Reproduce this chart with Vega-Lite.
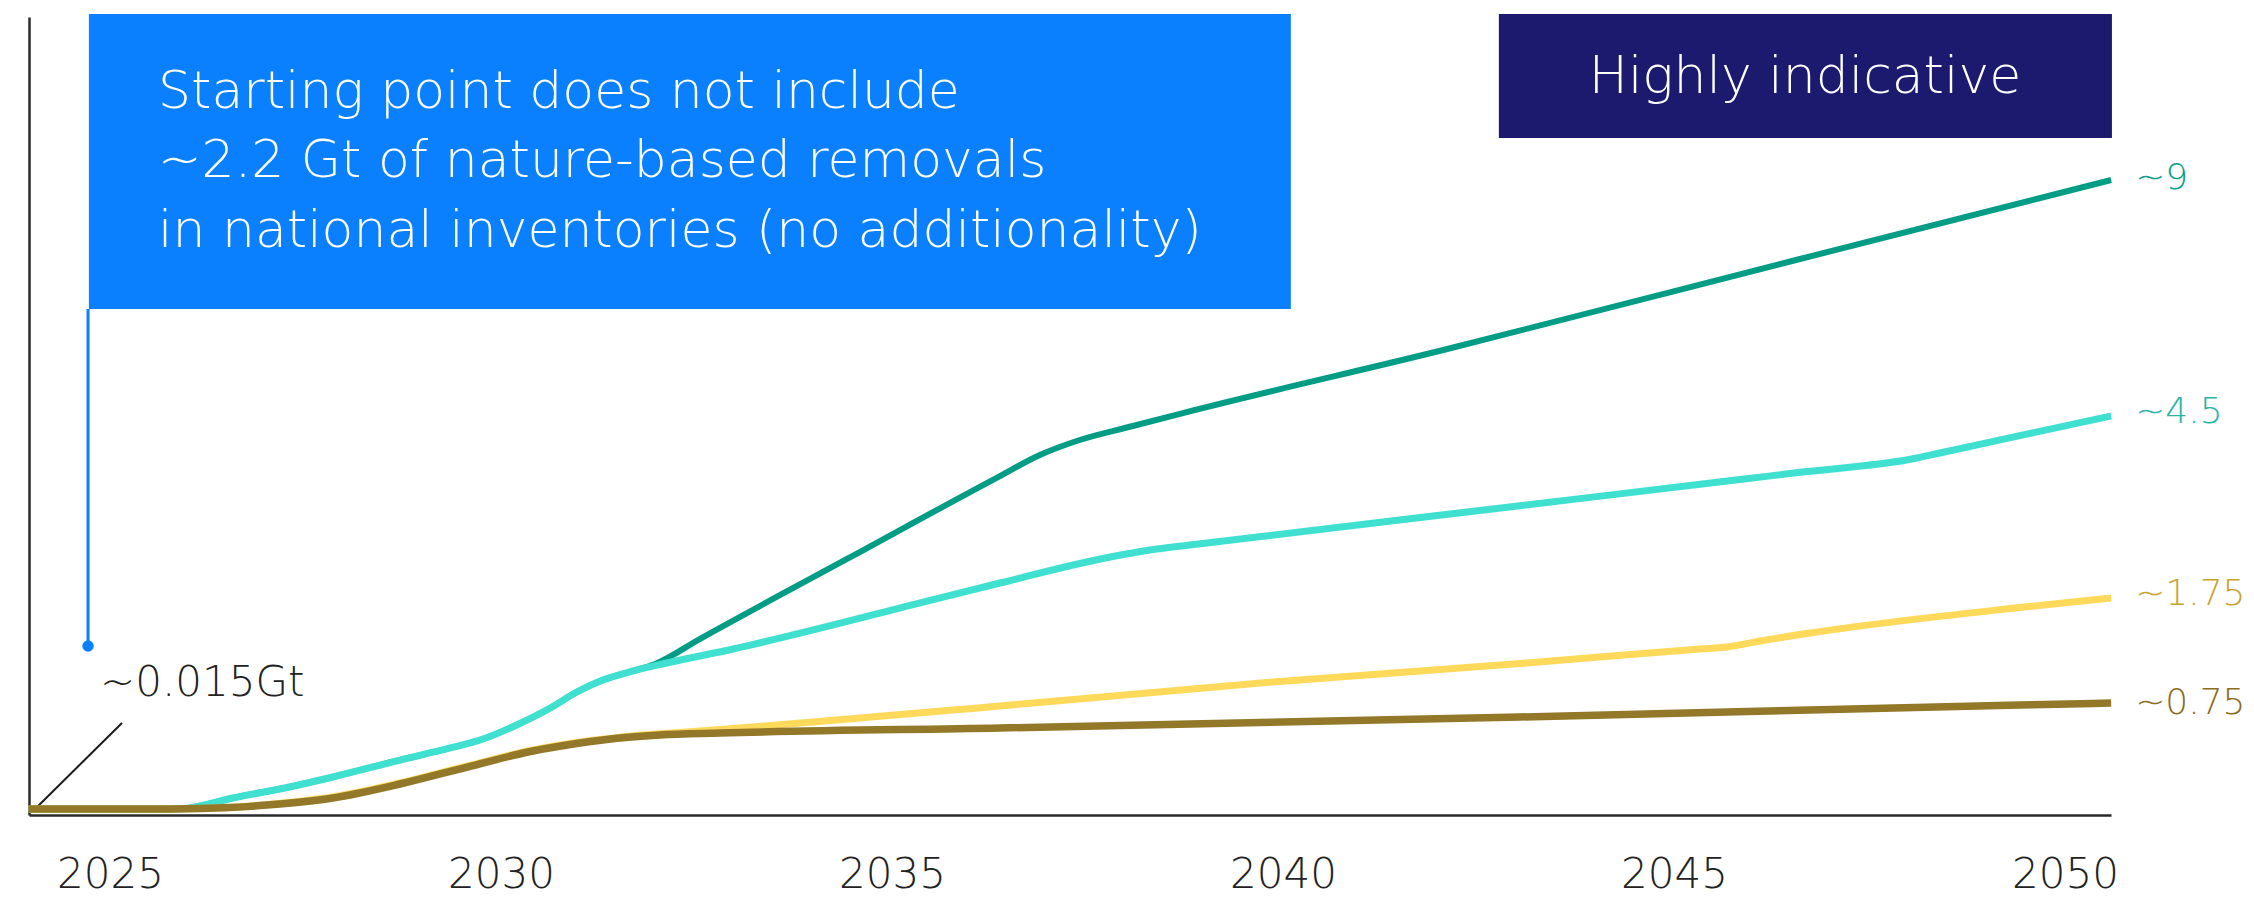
{
  "$schema": "https://vega.github.io/schema/vega-lite/v6.json",
  "width": 2082,
  "height": 798,
  "autosize": {"type": "none"},
  "padding": {"left": 29, "top": 17, "right": 143, "bottom": 84},
  "background": "white",
  "config": {"view": {"stroke": null}, "font": "DejaVu Sans"},
  "datasets": {
    "lines": [
      {"s": "9", "year": 2023.96, "v": 0.085}, {"s": "9", "year": 2025.90, "v": 0.085}, {"s": "9", "year": 2026.15, "v": 0.128}, {"s": "9", "year": 2026.57, "v": 0.241}, {"s": "9", "year": 2027.17, "v": 0.368}, {"s": "9", "year": 2027.85, "v": 0.539}, {"s": "9", "year": 2028.71, "v": 0.779}, {"s": "9", "year": 2029.35, "v": 0.950}, {"s": "9", "year": 2029.77, "v": 1.077}, {"s": "9", "year": 2030.20, "v": 1.276}, {"s": "9", "year": 2030.63, "v": 1.516}, {"s": "9", "year": 2030.97, "v": 1.743}, {"s": "9", "year": 2031.27, "v": 1.899}, {"s": "9", "year": 2031.69, "v": 2.041}, {"s": "9", "year": 2031.97, "v": 2.140}, {"s": "9", "year": 2032.54, "v": 2.494}, {"s": "9", "year": 2034.46, "v": 3.650}, {"s": "9", "year": 2036.38, "v": 4.804}, {"s": "9", "year": 2036.89, "v": 5.102}, {"s": "9", "year": 2037.40, "v": 5.315}, {"s": "9", "year": 2038.08, "v": 5.513}, {"s": "9", "year": 2038.72, "v": 5.697}, {"s": "9", "year": 2042.05, "v": 6.590}, {"s": "9", "year": 2046.61, "v": 7.880}, {"s": "9", "year": 2050.59, "v": 9.000},
      {"s": "4.5", "year": 2023.96, "v": 0.085}, {"s": "4.5", "year": 2025.90, "v": 0.085}, {"s": "4.5", "year": 2026.15, "v": 0.128}, {"s": "4.5", "year": 2026.57, "v": 0.241}, {"s": "4.5", "year": 2027.17, "v": 0.368}, {"s": "4.5", "year": 2027.85, "v": 0.539}, {"s": "4.5", "year": 2028.71, "v": 0.779}, {"s": "4.5", "year": 2029.35, "v": 0.950}, {"s": "4.5", "year": 2029.77, "v": 1.077}, {"s": "4.5", "year": 2030.20, "v": 1.276}, {"s": "4.5", "year": 2030.63, "v": 1.516}, {"s": "4.5", "year": 2030.97, "v": 1.743}, {"s": "4.5", "year": 2031.27, "v": 1.899}, {"s": "4.5", "year": 2031.69, "v": 2.041}, {"s": "4.5", "year": 2032.12, "v": 2.154}, {"s": "4.5", "year": 2032.97, "v": 2.353}, {"s": "4.5", "year": 2035.36, "v": 3.005}, {"s": "4.5", "year": 2036.38, "v": 3.288}, {"s": "4.5", "year": 2037.79, "v": 3.656}, {"s": "4.5", "year": 2038.30, "v": 3.756}, {"s": "4.5", "year": 2038.81, "v": 3.827}, {"s": "4.5", "year": 2043.03, "v": 4.383}, {"s": "4.5", "year": 2045.87, "v": 4.758}, {"s": "4.5", "year": 2046.61, "v": 4.857}, {"s": "4.5", "year": 2048.04, "v": 5.045}, {"s": "4.5", "year": 2048.40, "v": 5.130}, {"s": "4.5", "year": 2049.42, "v": 5.376}, {"s": "4.5", "year": 2050.59, "v": 5.655},
      {"s": "1.75", "year": 2023.96, "v": 0.085}, {"s": "1.75", "year": 2025.77, "v": 0.085}, {"s": "1.75", "year": 2026.53, "v": 0.106}, {"s": "1.75", "year": 2027.17, "v": 0.166}, {"s": "1.75", "year": 2027.85, "v": 0.256}, {"s": "1.75", "year": 2028.71, "v": 0.454}, {"s": "1.75", "year": 2029.57, "v": 0.695}, {"s": "1.75", "year": 2030.41, "v": 0.922}, {"s": "1.75", "year": 2031.01, "v": 1.035}, {"s": "1.75", "year": 2031.52, "v": 1.103}, {"s": "1.75", "year": 2032.03, "v": 1.150}, {"s": "1.75", "year": 2032.54, "v": 1.190}, {"s": "1.75", "year": 2036.38, "v": 1.545}, {"s": "1.75", "year": 2039.87, "v": 1.885}, {"s": "1.75", "year": 2043.03, "v": 2.147}, {"s": "1.75", "year": 2045.33, "v": 2.352}, {"s": "1.75", "year": 2045.68, "v": 2.381}, {"s": "1.75", "year": 2046.10, "v": 2.466}, {"s": "1.75", "year": 2046.74, "v": 2.579}, {"s": "1.75", "year": 2049.42, "v": 2.940}, {"s": "1.75", "year": 2050.59, "v": 3.075},
      {"s": "0.75", "year": 2023.96, "v": 0.085}, {"s": "0.75", "year": 2025.77, "v": 0.085}, {"s": "0.75", "year": 2026.53, "v": 0.106}, {"s": "0.75", "year": 2027.17, "v": 0.156}, {"s": "0.75", "year": 2027.85, "v": 0.241}, {"s": "0.75", "year": 2028.71, "v": 0.439}, {"s": "0.75", "year": 2029.57, "v": 0.680}, {"s": "0.75", "year": 2030.41, "v": 0.907}, {"s": "0.75", "year": 2031.01, "v": 1.020}, {"s": "0.75", "year": 2031.52, "v": 1.091}, {"s": "0.75", "year": 2032.03, "v": 1.134}, {"s": "0.75", "year": 2032.80, "v": 1.162}, {"s": "0.75", "year": 2036.38, "v": 1.233}, {"s": "0.75", "year": 2043.03, "v": 1.389}, {"s": "0.75", "year": 2049.42, "v": 1.559}, {"s": "0.75", "year": 2050.59, "v": 1.587}
    ],
    "ends": [
      {"s": "9", "year": 2050.59, "v": 9.03, "label": "~9"},
      {"s": "4.5", "year": 2050.59, "v": 5.71, "label": "~4.5"},
      {"s": "1.75", "year": 2050.59, "v": 3.13, "label": "~1.75"},
      {"s": "0.75", "year": 2050.59, "v": 1.587, "label": "~0.75"}
    ],
    "boxes": [
      {"box": "note", "x1": 2024.73, "x2": 2040.10, "y1": 11.352, "y2": 7.171},
      {"box": "indicative", "x1": 2042.76, "x2": 2050.60, "y1": 11.352, "y2": 9.595}
    ],
    "notes": [
      {"year": 2025.614, "v": 10.020, "text": "Starting point does not include"},
      {"year": 2025.614, "v": 9.042, "text": "~2.2 Gt of nature-based removals"},
      {"year": 2025.614, "v": 8.050, "text": "in national inventories (no additionality)"}
    ]
  },
  "layer": [
    {
      "data": {"name": "boxes"},
      "mark": {"type": "rect"},
      "encoding": {
        "x": {"field": "x1", "type": "quantitative"},
        "x2": {"field": "x2"},
        "y": {"field": "y1", "type": "quantitative"},
        "y2": {"field": "y2"},
        "fill": {"field": "box", "type": "nominal", "scale": {"domain": ["note", "indicative"], "range": ["#0a80ff", "#1b1a6f"]}, "legend": null}
      }
    },
    {
      "data": {"name": "notes"},
      "mark": {"type": "text", "align": "left", "baseline": "alphabetic", "font": "DejaVu Sans", "fontWeight": 200, "fontSize": 52, "color": "white"},
      "encoding": {
        "x": {"field": "year", "type": "quantitative"},
        "y": {"field": "v", "type": "quantitative"},
        "text": {"field": "text"}
      }
    },
    {
      "data": {"values": [{"year": 2046.675, "v": 10.232, "text": "Highly indicative"}]},
      "mark": {"type": "text", "align": "center", "baseline": "alphabetic", "font": "DejaVu Sans", "fontWeight": 200, "fontSize": 52, "color": "white"},
      "encoding": {
        "x": {"field": "year", "type": "quantitative"},
        "y": {"field": "v", "type": "quantitative"},
        "text": {"field": "text"}
      }
    },
    {
      "data": {"values": [{"year": 2024.719, "v": 7.171, "v2": 2.395}]},
      "mark": {"type": "rule", "color": "#0a80ff", "strokeWidth": 3},
      "encoding": {
        "x": {"field": "year", "type": "quantitative"},
        "y": {"field": "v", "type": "quantitative"},
        "y2": {"field": "v2"}
      }
    },
    {
      "data": {"values": [{"year": 2024.719, "v": 2.395}]},
      "mark": {"type": "point", "filled": true, "color": "#0a80ff", "size": 130, "opacity": 1},
      "encoding": {
        "x": {"field": "year", "type": "quantitative"},
        "y": {"field": "v", "type": "quantitative"}
      }
    },
    {
      "data": {"values": [{"year": 2024.003, "v": 0.043, "year2": 2025.153, "v2": 1.304}]},
      "mark": {"type": "rule", "color": "#1a1a1a", "strokeWidth": 2},
      "encoding": {
        "x": {"field": "year", "type": "quantitative"},
        "y": {"field": "v", "type": "quantitative"},
        "x2": {"field": "year2"},
        "y2": {"field": "v2"}
      }
    },
    {
      "data": {"values": [{"year": 2024.872, "v": 1.687, "text": "~0.015Gt"}]},
      "mark": {"type": "text", "align": "left", "baseline": "alphabetic", "font": "DejaVu Sans", "fontWeight": 200, "fontSize": 42, "color": "#222222"},
      "encoding": {
        "x": {"field": "year", "type": "quantitative"},
        "y": {"field": "v", "type": "quantitative"},
        "text": {"field": "text"}
      }
    },
    {
      "data": {"name": "lines"},
      "transform": [{"filter": "datum.s === '9'"}],
      "mark": {"type": "line", "color": "#039c84", "strokeWidth": 6, "interpolate": "monotone"},
      "encoding": {
        "x": {"field": "year", "type": "quantitative", "scale": {"domain": [2023.964, 2050.588], "nice": false, "zero": false},
          "axis": {"values": [2025, 2030, 2035, 2040, 2045, 2050], "format": "d", "title": null, "grid": false, "ticks": false, "tickSize": 0,
            "labelFontSize": 42, "labelFont": "DejaVu Sans", "labelFontWeight": 200, "labelColor": "#222222", "labelBaseline": "alphabetic", "labelPadding": 72, "labelFlush": false,
            "domainColor": "#2a2a2a", "domainWidth": 2.5}},
        "y": {"field": "v", "type": "quantitative", "scale": {"domain": [0, 11.31], "nice": false},
          "axis": {"title": null, "labels": false, "ticks": false, "grid": false, "domainColor": "#2a2a2a", "domainWidth": 2.5}}
      }
    },
    {
      "data": {"name": "lines"},
      "transform": [{"filter": "datum.s === '4.5'"}],
      "mark": {"type": "line", "color": "#40e0d0", "strokeWidth": 7, "interpolate": "monotone"},
      "encoding": {
        "x": {"field": "year", "type": "quantitative"},
        "y": {"field": "v", "type": "quantitative"}
      }
    },
    {
      "data": {"name": "lines"},
      "transform": [{"filter": "datum.s === '1.75'"}],
      "mark": {"type": "line", "color": "#ffd95a", "strokeWidth": 7, "interpolate": "monotone"},
      "encoding": {
        "x": {"field": "year", "type": "quantitative"},
        "y": {"field": "v", "type": "quantitative"}
      }
    },
    {
      "data": {"name": "lines"},
      "transform": [{"filter": "datum.s === '0.75'"}],
      "mark": {"type": "line", "color": "#927828", "strokeWidth": 7.5, "interpolate": "monotone"},
      "encoding": {
        "x": {"field": "year", "type": "quantitative"},
        "y": {"field": "v", "type": "quantitative"}
      }
    },
    {
      "data": {"name": "ends"},
      "mark": {"type": "text", "align": "left", "baseline": "middle", "dx": 24, "font": "DejaVu Sans", "fontWeight": 200, "fontSize": 36},
      "encoding": {
        "x": {"field": "year", "type": "quantitative"},
        "y": {"field": "v", "type": "quantitative"},
        "text": {"field": "label"},
        "color": {"field": "s", "type": "nominal", "scale": {"domain": ["9", "4.5", "1.75", "0.75"], "range": ["#0d9e86", "#2ab5a3", "#c9a22e", "#8c6d1e"]}, "legend": null}
      }
    }
  ]
}
